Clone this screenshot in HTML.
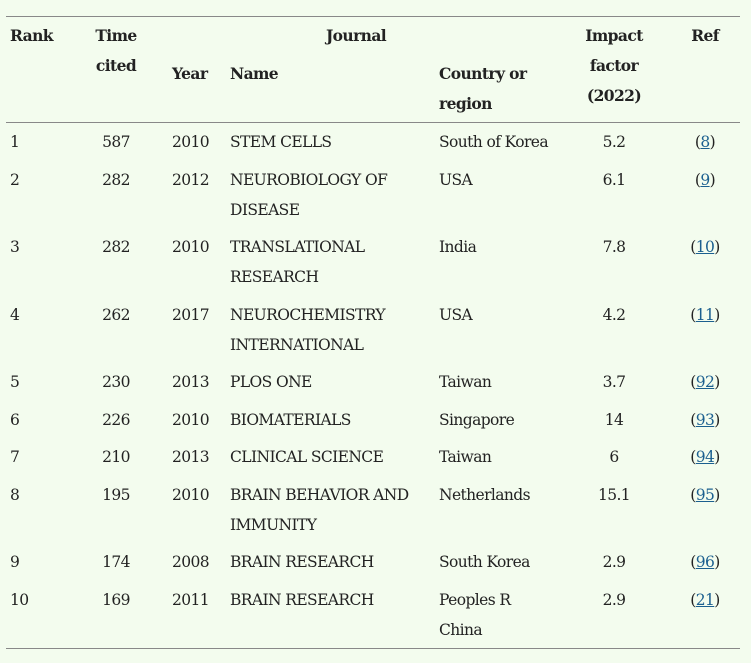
<!DOCTYPE html>
<html><head><meta charset="utf-8"><style>
body{margin:0;width:751px;height:663px;background:#f3fcee;font-family:"DejaVu Serif","Liberation Serif",serif;font-size:15.5px;color:#222;position:relative;overflow:hidden}
.t{position:absolute;line-height:30px;white-space:nowrap;letter-spacing:-0.6px}
.b{font-weight:bold}
.c{transform:translateX(-50%);text-align:center}
.l{position:absolute;left:6px;width:734px;height:1px;background:#888}
a{color:#1b5f8f;text-decoration:underline}
</style></head><body>
<div class="l" style="top:16px"></div>
<div class="l" style="top:122px"></div>
<div class="l" style="top:648px"></div>

<div class="t b" style="left:10px;top:21px">Rank</div>
<div class="t b c" style="left:116px;top:21px">Time<br>cited</div>
<div class="t b c" style="left:356px;top:21px">Journal</div>
<div class="t b" style="left:172px;top:59px">Year</div>
<div class="t b" style="left:230px;top:59px">Name</div>
<div class="t b" style="left:439px;top:59px">Country or<br>region</div>
<div class="t b c" style="left:614px;top:21px">Impact<br>factor<br>(2022)</div>
<div class="t b c" style="left:705px;top:21px">Ref</div>

<div class="t" style="left:10px;top:127px">1</div><div class="t c" style="left:116px;top:127px">587</div><div class="t" style="left:172px;top:127px">2010</div><div class="t" style="left:230px;top:127px">STEM CELLS</div><div class="t" style="left:439px;top:127px">South of Korea</div><div class="t c" style="left:614px;top:127px">5.2</div><div class="t c" style="left:705px;top:127px">(<a>8</a>)</div>

<div class="t" style="left:10px;top:165px">2</div><div class="t c" style="left:116px;top:165px">282</div><div class="t" style="left:172px;top:165px">2012</div><div class="t" style="left:230px;top:165px">NEUROBIOLOGY OF<br>DISEASE</div><div class="t" style="left:439px;top:165px">USA</div><div class="t c" style="left:614px;top:165px">6.1</div><div class="t c" style="left:705px;top:165px">(<a>9</a>)</div>

<div class="t" style="left:10px;top:232px">3</div><div class="t c" style="left:116px;top:232px">282</div><div class="t" style="left:172px;top:232px">2010</div><div class="t" style="left:230px;top:232px">TRANSLATIONAL<br>RESEARCH</div><div class="t" style="left:439px;top:232px">India</div><div class="t c" style="left:614px;top:232px">7.8</div><div class="t c" style="left:705px;top:232px">(<a>10</a>)</div>

<div class="t" style="left:10px;top:300px">4</div><div class="t c" style="left:116px;top:300px">262</div><div class="t" style="left:172px;top:300px">2017</div><div class="t" style="left:230px;top:300px">NEUROCHEMISTRY<br>INTERNATIONAL</div><div class="t" style="left:439px;top:300px">USA</div><div class="t c" style="left:614px;top:300px">4.2</div><div class="t c" style="left:705px;top:300px">(<a>11</a>)</div>

<div class="t" style="left:10px;top:367px">5</div><div class="t c" style="left:116px;top:367px">230</div><div class="t" style="left:172px;top:367px">2013</div><div class="t" style="left:230px;top:367px">PLOS ONE</div><div class="t" style="left:439px;top:367px">Taiwan</div><div class="t c" style="left:614px;top:367px">3.7</div><div class="t c" style="left:705px;top:367px">(<a>92</a>)</div>

<div class="t" style="left:10px;top:405px">6</div><div class="t c" style="left:116px;top:405px">226</div><div class="t" style="left:172px;top:405px">2010</div><div class="t" style="left:230px;top:405px">BIOMATERIALS</div><div class="t" style="left:439px;top:405px">Singapore</div><div class="t c" style="left:614px;top:405px">14</div><div class="t c" style="left:705px;top:405px">(<a>93</a>)</div>

<div class="t" style="left:10px;top:442px">7</div><div class="t c" style="left:116px;top:442px">210</div><div class="t" style="left:172px;top:442px">2013</div><div class="t" style="left:230px;top:442px">CLINICAL SCIENCE</div><div class="t" style="left:439px;top:442px">Taiwan</div><div class="t c" style="left:614px;top:442px">6</div><div class="t c" style="left:705px;top:442px">(<a>94</a>)</div>

<div class="t" style="left:10px;top:480px">8</div><div class="t c" style="left:116px;top:480px">195</div><div class="t" style="left:172px;top:480px">2010</div><div class="t" style="left:230px;top:480px">BRAIN BEHAVIOR AND<br>IMMUNITY</div><div class="t" style="left:439px;top:480px">Netherlands</div><div class="t c" style="left:614px;top:480px">15.1</div><div class="t c" style="left:705px;top:480px">(<a>95</a>)</div>

<div class="t" style="left:10px;top:547px">9</div><div class="t c" style="left:116px;top:547px">174</div><div class="t" style="left:172px;top:547px">2008</div><div class="t" style="left:230px;top:547px">BRAIN RESEARCH</div><div class="t" style="left:439px;top:547px">South Korea</div><div class="t c" style="left:614px;top:547px">2.9</div><div class="t c" style="left:705px;top:547px">(<a>96</a>)</div>

<div class="t" style="left:10px;top:585px">10</div><div class="t c" style="left:116px;top:585px">169</div><div class="t" style="left:172px;top:585px">2011</div><div class="t" style="left:230px;top:585px">BRAIN RESEARCH</div><div class="t" style="left:439px;top:585px">Peoples R<br>China</div><div class="t c" style="left:614px;top:585px">2.9</div><div class="t c" style="left:705px;top:585px">(<a>21</a>)</div>
</body></html>
